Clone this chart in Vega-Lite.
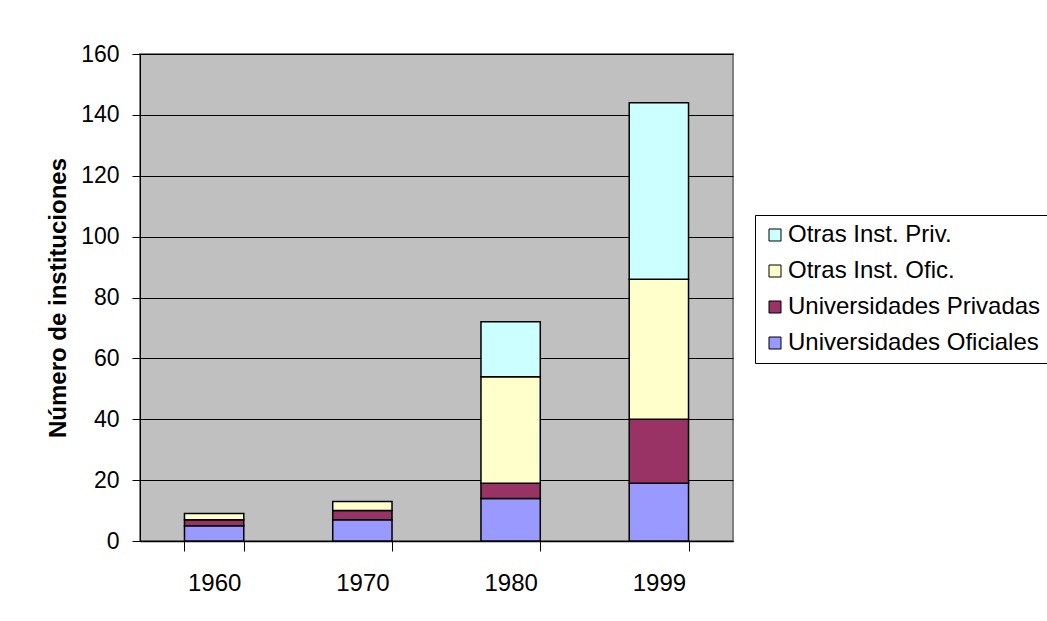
{
  "$schema": "https://vega.github.io/schema/vega-lite/v6.json",
  "autosize": "none",
  "width": 593,
  "height": 487,
  "padding": {"left": 140, "top": 54, "right": 314, "bottom": 80},
  "background": "white",
  "data": {
    "values": [
      {"year": "1960", "tipo": "Universidades Oficiales", "orden": 1, "n": 5},
      {"year": "1960", "tipo": "Universidades Privadas", "orden": 2, "n": 2},
      {"year": "1960", "tipo": "Otras Inst. Ofic.", "orden": 3, "n": 2},
      {"year": "1970", "tipo": "Universidades Oficiales", "orden": 1, "n": 7},
      {"year": "1970", "tipo": "Universidades Privadas", "orden": 2, "n": 3},
      {"year": "1970", "tipo": "Otras Inst. Ofic.", "orden": 3, "n": 3},
      {"year": "1980", "tipo": "Universidades Oficiales", "orden": 1, "n": 14},
      {"year": "1980", "tipo": "Universidades Privadas", "orden": 2, "n": 5},
      {"year": "1980", "tipo": "Otras Inst. Ofic.", "orden": 3, "n": 35},
      {"year": "1980", "tipo": "Otras Inst. Priv.", "orden": 4, "n": 18},
      {"year": "1999", "tipo": "Universidades Oficiales", "orden": 1, "n": 19},
      {"year": "1999", "tipo": "Universidades Privadas", "orden": 2, "n": 21},
      {"year": "1999", "tipo": "Otras Inst. Ofic.", "orden": 3, "n": 46},
      {"year": "1999", "tipo": "Otras Inst. Priv.", "orden": 4, "n": 58}
    ]
  },
  "mark": {"type": "bar", "stroke": "black", "strokeWidth": 1.5},
  "encoding": {
    "x": {
      "field": "year",
      "type": "nominal",
      "scale": {"paddingInner": 0.6, "paddingOuter": 0.3},
      "axis": {
        "title": null,
        "labelAngle": 0,
        "labelFont": "Liberation Sans",
        "labelFontSize": 24,
        "labelColor": "black",
        "labelPadding": 20,
        "tickBand": "extent",
        "tickSize": 10,
        "tickColor": "black",
        "domainColor": "black",
        "domainWidth": 1.5,
        "grid": false
      }
    },
    "y": {
      "field": "n",
      "type": "quantitative",
      "stack": "zero",
      "scale": {"domain": [0, 160], "nice": false},
      "axis": {
        "title": "Número de instituciones",
        "titleFont": "Liberation Sans",
        "titleFontSize": 24,
        "titleFontWeight": "bold",
        "titleColor": "black",
        "titlePadding": 10,
        "values": [0, 20, 40, 60, 80, 100, 120, 140, 160],
        "labelFont": "Liberation Sans",
        "labelFontSize": 23,
        "labelColor": "black",
        "labelPadding": 13,
        "tickSize": 8,
        "tickColor": "black",
        "domainColor": "black",
        "grid": true,
        "gridColor": "black",
        "gridWidth": 1
      }
    },
    "color": {
      "field": "tipo",
      "type": "nominal",
      "scale": {
        "domain": ["Otras Inst. Priv.", "Otras Inst. Ofic.", "Universidades Privadas", "Universidades Oficiales"],
        "range": ["#CCFFFF", "#FFFFCC", "#993366", "#9999FF"]
      },
      "legend": {
        "title": null,
        "orient": "none",
        "legendX": 615,
        "legendY": 161,
        "symbolType": "square",
        "symbolSize": 144,
        "symbolStrokeColor": "black",
        "symbolStrokeWidth": 1,
        "labelFont": "Liberation Sans",
        "labelFontSize": 24,
        "labelColor": "black",
        "labelOffset": 1,
        "rowPadding": 12,
        "padding": 8,
        "strokeColor": "black",
        "fillColor": "white",
        "labelLimit": 400
      }
    },
    "order": {"field": "orden", "type": "quantitative"}
  },
  "config": {
    "view": {"fill": "#C0C0C0", "stroke": "#808080", "strokeWidth": 2}
  }
}
